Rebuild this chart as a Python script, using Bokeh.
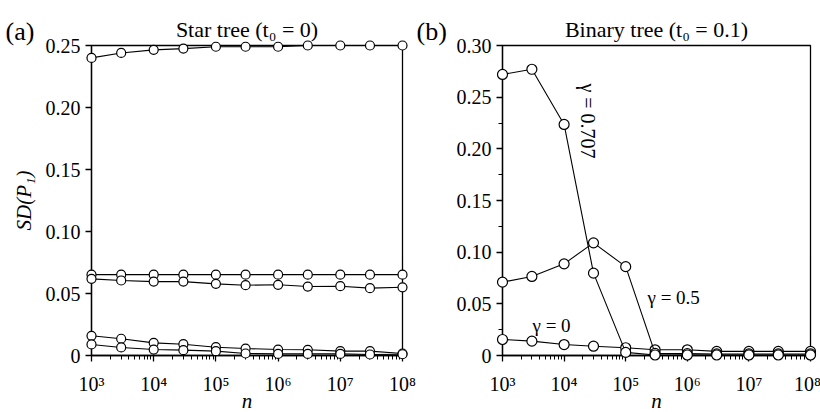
import math
from bokeh.plotting import figure
from bokeh.layouts import row
from bokeh.models import FixedTicker, Label, BoxAnnotation, Range1d, CustomJSTickFormatter
from bokeh.core.properties import value
from bokeh.embed import file_html
from bokeh.resources import INLINE

# ---------------- data ----------------
n_values = [1e3, 3e3, 1e4, 3e4, 1e5, 3e5, 1e6, 3e6, 1e7, 3e7, 1e8]

# (a) Star tree (t0 = 0): five curves
star_1 = [0.2400, 0.2440, 0.2465, 0.2475, 0.2490, 0.2490, 0.2490, 0.2500, 0.2500, 0.2500, 0.2500]
star_2 = [0.0652, 0.0652, 0.0652, 0.0652, 0.0652, 0.0652, 0.0652, 0.0652, 0.0652, 0.0652, 0.0652]
star_3 = [0.0618, 0.0605, 0.0596, 0.0596, 0.0578, 0.0567, 0.0570, 0.0556, 0.0559, 0.0543, 0.0550]
star_4 = [0.0159, 0.0135, 0.0102, 0.0091, 0.0067, 0.0056, 0.0048, 0.0046, 0.0035, 0.0035, 0.0016]
star_5 = [0.0089, 0.0065, 0.0048, 0.0043, 0.0035, 0.0016, 0.0013, 0.0013, 0.0013, 0.0008, 0.0010]

# (b) Binary tree (t0 = 0.1)
binary_g0 = [0.0155, 0.0139, 0.0106, 0.0090, 0.0075, 0.0055, 0.0055, 0.0040, 0.0040, 0.0040, 0.0040]
binary_g05 = [0.0710, 0.0765, 0.0887, 0.1090, 0.0860, 0.0020, 0.0018, 0.0015, 0.0015, 0.0015, 0.0015]
binary_g0707 = [0.2720, 0.2770, 0.2236, 0.0797, 0.0030, 0.0005, 0.0005, 0.0005, 0.0005, 0.0005, 0.0005]

x_ticks = [1e3, 1e4, 1e5, 1e6, 1e7, 1e8]
x_tick_labels = ["10\u00b3", "10\u2074", "10\u2075", "10\u2076", "10\u2077", "10\u2078"]
star_y_ticks = [0.0, 0.05, 0.10, 0.15, 0.20, 0.25]
star_y_labels = ["0", "0.05", "0.10", "0.15", "0.20", "0.25"]
binary_y_ticks = [0.0, 0.05, 0.10, 0.15, 0.20, 0.25, 0.30]
binary_y_labels = ["0", "0.05", "0.10", "0.15", "0.20", "0.25", "0.30"]
binary_y_minor = [0.025, 0.075, 0.125, 0.175, 0.225, 0.275]

FONT = "Liberation Serif"
X_MIN, X_MAX = 1e3, 1e8
CANVAS_H = 412
BOX_TOP, BOX_BOTTOM = 45, 355   # pixel rows of the axes box


class Panel:
    """Figure whose frame fills the canvas; the axes box sits inside it."""

    def __init__(self, canvas_w, box_left, box_right, y_max):
        self.canvas_w = canvas_w
        self.box_left = box_left
        self.box_right = box_right
        self.y_max = y_max
        self.px_dec = (box_right - box_left) / (math.log10(X_MAX) - math.log10(X_MIN))
        self.px_unit = (BOX_BOTTOM - BOX_TOP) / y_max

    def x_at(self, px):
        return 10 ** (math.log10(X_MIN) + (px - self.box_left) / self.px_dec)

    def y_at(self, py):
        return (BOX_BOTTOM - py) / self.px_unit

    @property
    def center(self):
        return (self.box_left + self.box_right) / 2


def make_panel(geom, y_ticks, y_labels, y_minor, last_x_label_shift=0):
    p = figure(
        x_axis_type="log",
        x_range=Range1d(geom.x_at(0), geom.x_at(geom.canvas_w)),
        y_range=Range1d(geom.y_at(CANVAS_H), geom.y_at(0)),
        width=geom.canvas_w, height=CANVAS_H, title=None,
        min_border_left=0, min_border_right=0, min_border_top=0, min_border_bottom=0,
        output_backend="svg", toolbar_location=None,
        background_fill_color="white", border_fill_color="white",
    )
    p.outline_line_color = None
    p.xgrid.visible = False
    p.ygrid.visible = False

    minor_x = [m * 10 ** k for k in range(3, 8) for m in range(2, 10)]
    xa = p.xaxis[0]
    xa.ticker = FixedTicker(ticks=x_ticks, minor_ticks=minor_x)
    xa.fixed_location = 0
    xa.bounds = (X_MIN, X_MAX)

    ya = p.yaxis[0]
    ya.ticker = FixedTicker(ticks=y_ticks, minor_ticks=y_minor)
    ya.fixed_location = X_MIN
    ya.bounds = (0, geom.y_max)

    for ax in (xa, ya):
        ax.formatter = CustomJSTickFormatter(code="return ''")
        ax.axis_line_color = "black"
        ax.axis_line_width = 1.3
        ax.major_tick_line_color = "black"
        ax.major_tick_line_width = 1.3
        ax.minor_tick_line_color = "black"
        ax.minor_tick_line_width = 1.0
        ax.major_tick_in = 0
        ax.major_tick_out = 6
        ax.minor_tick_in = 0
        ax.minor_tick_out = 4

    # tick labels drawn as serif text at the tick values
    x_shift = [0] * (len(x_ticks) - 1) + [last_x_label_shift]
    p.text(x=x_ticks, y=[0] * len(x_ticks), text=x_tick_labels, x_offset=x_shift,
           text_font=value(FONT), text_font_size="20px", text_color="black",
           text_align="center", text_baseline="alphabetic", y_offset=28)
    p.text(x=[X_MIN] * len(y_ticks), y=y_ticks, text=y_labels,
           text_font=value(FONT), text_font_size="20px", text_color="black",
           text_align="right", text_baseline="middle", x_offset=-11)

    box = BoxAnnotation(left=X_MIN, right=X_MAX, bottom=0, top=geom.y_max,
                        fill_color=None, fill_alpha=0,
                        line_color="black", line_alpha=1.0, line_width=1.3,
                        level="underlay")
    p.add_layout(box)
    return p


def add_series(p, ys, size):
    r1 = p.line(n_values, ys, line_color="black", line_width=1.1)
    r2 = p.scatter(n_values, ys, marker="circle", size=size, fill_color="white",
                   line_color="black", line_width=1.2)
    r1.level = "overlay"
    r2.level = "overlay"


def add_text(p, x, y, text, size, align="left", baseline="alphabetic", angle=0.0,
             style="normal"):
    p.add_layout(Label(x=x, y=y, text=text, text_font=FONT, text_font_size=size,
                       text_color="black", text_align=align, text_baseline=baseline,
                       angle=angle, text_font_style=style))


# ---------------- panel (a) ----------------
ga = Panel(416, 91, 402, 0.25)
pa = make_panel(ga, star_y_ticks, star_y_labels, [])
for s in (star_1, star_2, star_3, star_4, star_5):
    add_series(pa, s, 9)
add_text(pa, ga.x_at(5), ga.y_at(31), "(a)", "26px")
add_text(pa, ga.x_at(ga.center), ga.y_at(29), "Star tree (t\u2080 = 0)", "22px", align="center")
add_text(pa, ga.x_at(ga.center), ga.y_at(400), "n", "21px", align="center", style="italic")
add_text(pa, ga.x_at(23), ga.y_at(200), "SD(P\u2081)", "21px", align="center",
         baseline="middle", angle=math.pi / 2, style="italic")

# ---------------- panel (b) ----------------
gb = Panel(404, 86, 394, 0.30)
pb = make_panel(gb, binary_y_ticks, binary_y_labels, binary_y_minor, last_x_label_shift=-3)
for s in (binary_g0, binary_g05, binary_g0707):
    add_series(pb, s, 10)
add_text(pb, gb.x_at(0), gb.y_at(31), "(b)", "26px")
add_text(pb, gb.x_at(gb.center), gb.y_at(29), "Binary tree (t\u2080 = 0.1)", "22px", align="center")
add_text(pb, gb.x_at(gb.center), gb.y_at(400), "n", "21px", align="center", style="italic")
add_text(pb, gb.x_at(116), gb.y_at(325), "\u03b3 = 0", "19px")
add_text(pb, gb.x_at(231), gb.y_at(297), "\u03b3 = 0.5", "19px")
add_text(pb, gb.x_at(171), gb.y_at(83), "\u03b3 = 0.707", "20px", baseline="middle",
         angle=-math.pi / 2)

layout = row(pa, pb)
open("out.html", "w").write(file_html(layout, INLINE))
